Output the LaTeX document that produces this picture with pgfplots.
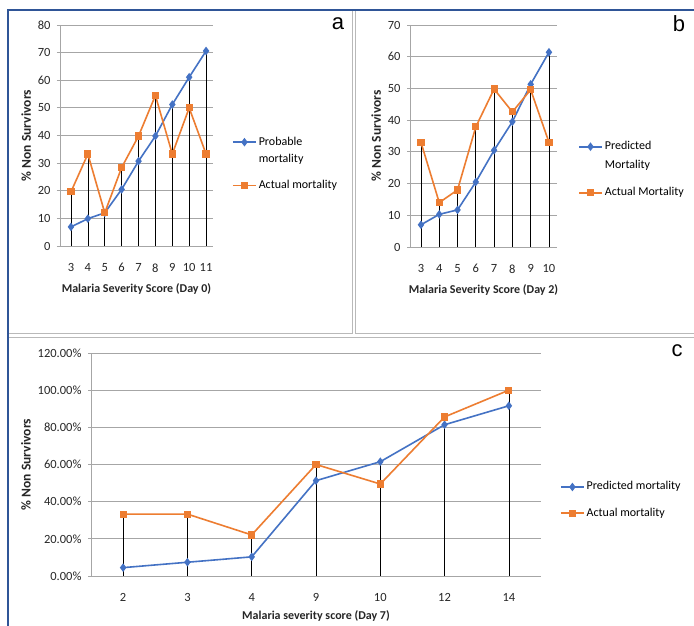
\documentclass[border=0pt]{standalone}
\usepackage{pgfplots}
\pgfplotsset{compat=1.18}
\usepackage{pgfplotstable}
\usepackage{fontspec}
\setmainfont{Carlito}
\newfontfamily\arialfont{Liberation Sans}
\definecolor{xblue}{HTML}{4472C4}
\definecolor{xorange}{HTML}{ED7D31}
\definecolor{frameblue}{HTML}{2F5597}
\definecolor{gridgray}{HTML}{A6A6A6}

\pgfplotstableread{
x  pred  act
3  6.9   19.6
4  9.9   33.3
5  12.0  12.0
6  20.5  28.4
7  30.7  39.8
8  39.8  54.5
9  51.2  33.3
10 61.1  50.0
11 70.6  33.3
}\dataA

\pgfplotstableread{
x  pred  act
3  7.0   33.0
4  10.3  14.0
5  11.7  18.0
6  20.5  37.9
7  30.5  49.8
8  39.5  42.6
9  51.3  49.6
10 61.4  33.0
}\dataB

\pgfplotstableread{
x  score pred  act
0  2     4.5   33.3
1  3     7.4   33.3
2  4     10.3  22.1
3  9     51.3  60.0
4  10    61.5  49.5
5  12    81.4  85.6
6  14    91.6  100.0
}\dataC

\pgfplotsset{
  mystyle/.style={
    scale only axis,
    axis x line=bottom, axis y line=left,
    axis line style={-, gridgray, line width=0.8pt},
    ymajorgrids, major grid style={gridgray, line width=0.8pt},
    tick label style={font=\fontsize{12.5}{14}\selectfont, text=black!85},
    xlabel style={font=\bfseries\fontsize{12}{14}\selectfont, text=black!85, yshift=-5pt},
    ylabel style={font=\bfseries\fontsize{13.5}{15}\selectfont, text=black!85},
    ytick style={gridgray, line width=0.8pt},
    tick align=outside, major tick length=3pt,
    xtick style={draw=none},
    xticklabel style={yshift=-11pt},
    yticklabel style={xshift=-3pt},
    /pgf/number format/assume math mode=true,
    legend style={draw=none, fill=none, inner sep=0pt,
      nodes={inner sep=2pt, text depth=},
      cells={anchor=base west}, anchor=north west},
    legend image code/.code={\draw[mark repeat=2,mark phase=2,##1] plot coordinates {(0pt,3pt) (11.5pt,3pt) (23pt,3pt)};},
  },
  pred/.style={xblue, line width=1.6pt, mark=diamond*, mark size=3pt, mark options={solid}},
  act/.style={xorange, line width=1.6pt, mark=square*, mark size=2.8pt, mark options={solid}},
  drop/.style={ycomb, black, line width=0.7pt, no marks, forget plot},
}

\begin{document}
\begin{tikzpicture}
\useasboundingbox (0pt,0pt) rectangle (694pt,626pt);
\fill[white] (0pt,0pt) rectangle (694pt,626pt);
% panel frames
\draw[gray!55, line width=0.9pt] (352pt,616pt) -- (352pt,293pt) -- (8pt,293pt);
\draw[gray!55, line width=0.9pt] (355pt,616pt) -- (355pt,293pt) -- (694pt,293pt);
\draw[gray!55, line width=0.9pt] (8pt,289pt) -- (694pt,289pt);
\draw[frameblue, line width=1.6pt] (8pt,0pt) -- (8pt,616pt) -- (694pt,616pt);

% panel a
\begin{axis}[mystyle,
  at={(60pt,380pt)}, anchor=south west, width=153pt, height=221pt,
  xmin=2.35, xmax=11.41, ymin=0, ymax=80, ytick={0,10,...,80},
  xtick={3,...,11},
  xlabel={Malaria Severity Score (Day 0)}, ylabel={\% Non Survivors},
  legend style={at={(1.124,0.52)}, font=\fontsize{12}{17}\selectfont, row sep=9pt},
]
\addplot[drop] table[x=x,y=pred] {\dataA};
\addplot[drop] table[x=x,y=act] {\dataA};
\addplot[pred] table[x=x,y=pred] {\dataA};
\addlegendentry{\begin{tabular}[t]{@{}l@{}}Probable\\mortality\end{tabular}}
\addplot[act] table[x=x,y=act] {\dataA};
\addlegendentry{Actual mortality}
\end{axis}

% panel b
\begin{axis}[mystyle,
  at={(410pt,379pt)}, anchor=south west, width=147pt, height=222pt,
  xmin=2.4, xmax=10.44, ymin=0, ymax=70, ytick={0,10,...,70},
  xtick={3,...,10},
  xlabel={Malaria Severity Score (Day 2)}, ylabel={\% Non Survivors},
  legend style={at={(1.143,0.508)}, font=\fontsize{12}{19}\selectfont, row sep=9pt},
]
\addplot[drop] table[x=x,y=pred] {\dataB};
\addplot[drop] table[x=x,y=act] {\dataB};
\addplot[pred] table[x=x,y=pred] {\dataB};
\addlegendentry{\begin{tabular}[t]{@{}l@{}}Predicted\\Mortality\end{tabular}}
\addplot[act] table[x=x,y=act] {\dataB};
\addlegendentry{Actual Mortality}
\end{axis}

% panel c
\begin{axis}[mystyle,
  at={(91pt,50pt)}, anchor=south west, width=450pt, height=223pt,
  xmin=-0.5, xmax=6.5, ymin=0, ymax=120, ytick={0,20,...,120},
  yticklabels={0.00\%,20.00\%,40.00\%,60.00\%,80.00\%,100.00\%,120.00\%},
  xtick={0,...,6}, xticklabels={2,3,4,9,10,12,14},
  xlabel={Malaria severity score (Day 7)}, ylabel={\% Non Survivors},
  xlabel style={yshift=3pt},
  legend style={at={(1.042,0.433)}, font=\fontsize{12}{14}\selectfont, row sep=12pt},
]
\addplot[drop] table[x=x,y=pred] {\dataC};
\addplot[drop] table[x=x,y=act] {\dataC};
\addplot[pred] table[x=x,y=pred] {\dataC};
\addlegendentry{Predicted mortality}
\addplot[act] table[x=x,y=act] {\dataC};
\addlegendentry{Actual mortality}
\end{axis}

% panel letters
\node[anchor=base, font=\arialfont\fontsize{22}{24}\selectfont] at (338pt,596pt) {a};
\node[anchor=base, font=\arialfont\fontsize{22}{24}\selectfont] at (679pt,594pt) {b};
\node[anchor=base, font=\arialfont\fontsize{22}{24}\selectfont] at (677pt,269pt) {c};
\end{tikzpicture}
\end{document}
